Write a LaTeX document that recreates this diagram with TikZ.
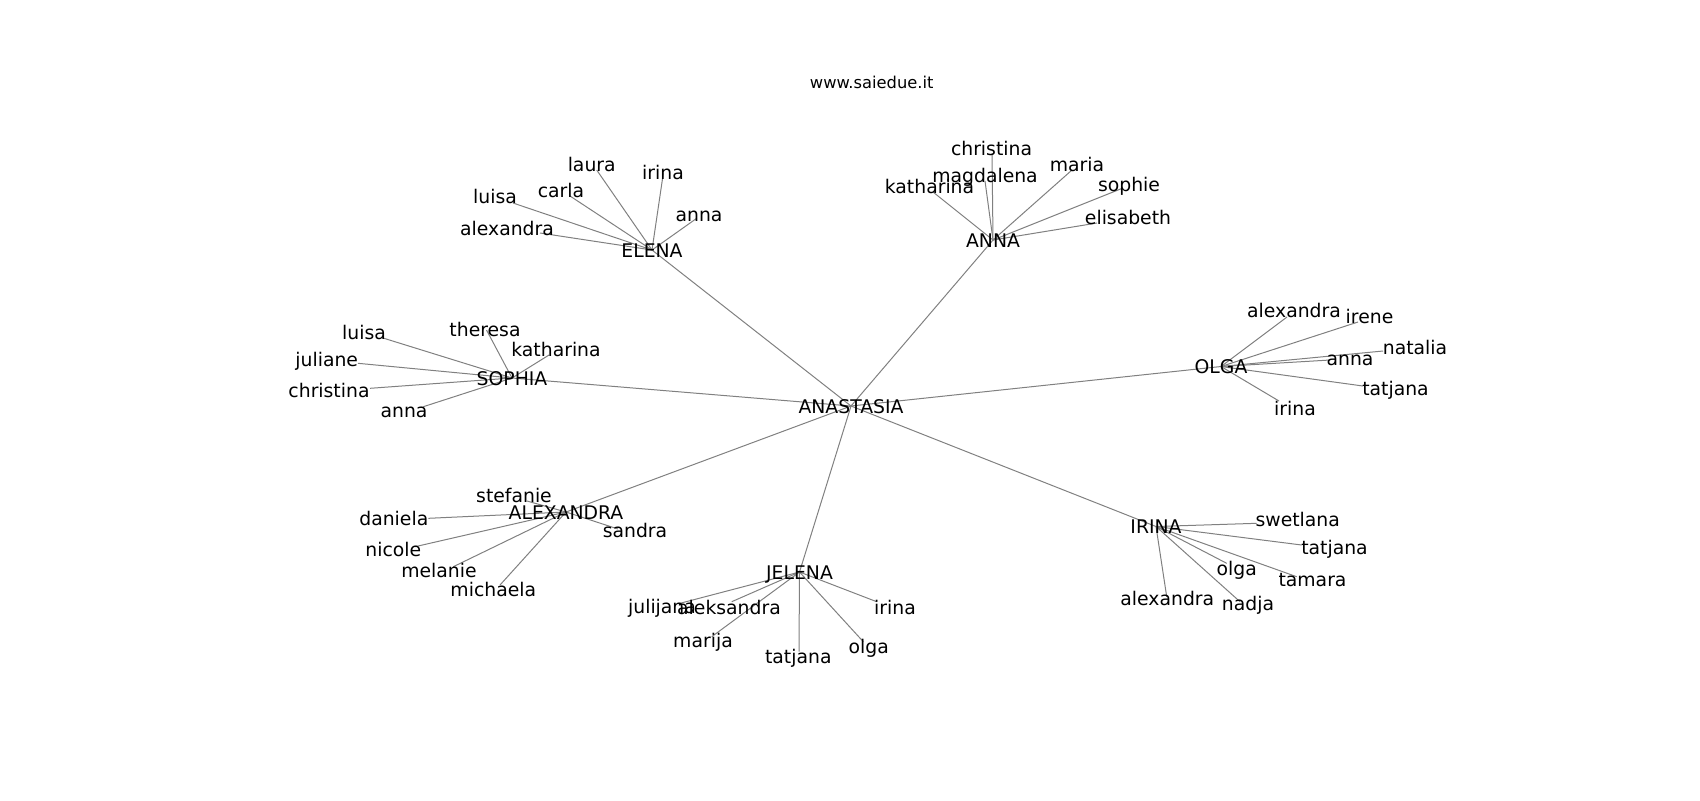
\documentclass[tikz,border=0pt]{standalone}
\usepackage{fontspec}
\setmainfont{DejaVu Sans}
\usetikzlibrary{backgrounds}
\definecolor{edgegray}{RGB}{128,128,128}
\begin{document}
\begin{tikzpicture}[x=0.5pt,y=-0.5pt,line join=round,line cap=round,
	hub/.style={inner sep=0pt,text height=0.73em,text depth=0pt,font=\fontsize{9.4}{11}\selectfont},
	leaf/.style={inner sep=0pt,anchor=base,font=\fontsize{9.4}{11}\selectfont},
	edge/.style={edgegray,line width=0.5pt}]
	\useasboundingbox (0,0) rectangle (1700,800);
	\node[anchor=base,inner sep=0pt,font=\fontsize{8.15}{10}\selectfont] (title) at (871.7,88.3) {www.saiedue.it};
	\foreach \h/\x/\y/\t in {ana/851/406/ANASTASIA,elena/652/250/ELENA,anna/993/240/ANNA,olga/1221/366.5/OLGA,
		sophia/512/378/SOPHIA,alexandra/566/512/ALEXANDRA,jelena/799.5/572/JELENA,irina/1156/526.5/IRINA}
	\node[hub] (\h) at (\x,\y) {\t};
	\begin{scope}[on background layer]
		\foreach \h in {elena,anna,olga,sophia,alexandra,jelena,irina}
		\draw[edge] (ana.center)--(\h.center);
	\end{scope}
	\foreach \h/\n/\ex/\ey/\lx/\ly in {
		elena/alexandra/540/233/507/235, elena/luisa/513/203/495/203, elena/carla/570/196/561/197,
		elena/laura/596.7/170/591.7/171.7, elena/irina/663.3/173.3/663/179, elena/anna/696.7/218.3/699/221,
		anna/katharina/933/192/929.5/193, anna/magdalena/985/181/985/182, anna/christina/992/153/991.5/155,
		anna/maria/1072/170/1077/171, anna/sophie/1123/188/1129/191, anna/elisabeth/1097/223/1128/224,
		olga/alexandra/1287/317/1294/317, olga/irene/1358/322/1369.5/323, olga/natalia/1383/351/1415/354,
		olga/anna/1330/360/1350/365, olga/tatjana/1363/386/1395.5/395, olga/irina/1279/401/1295/415,
		sophia/theresa/486.5/330/485/336, sophia/katharina/549/355/556/356, sophia/luisa/383/338/364/339,
		sophia/juliane/358/363.3/326.7/366, sophia/christina/370/388.3/329/397.7, sophia/anna/423.3/406.7/404/417.7,
		alexandra/stefanie/527/501/514/502.7, alexandra/daniela/428.3/518.3/393.8/525,
		alexandra/nicole/415/546.7/393.3/556.7, alexandra/melanie/453.3/566.7/439/577.3,
		alexandra/michaela/500/585/493.3/596, alexandra/sandra/618/529/635/537.7,
		jelena/julijana/680/603.3/662/613.5, jelena/aleksandra/731.7/601.7/729/614.3,
		jelena/marija/711.7/636.7/703/647.3, jelena/tatjana/799/651.7/798.3/663.3,
		jelena/olga/863.3/641.7/868.8/653.3, jelena/irina/876.7/601.7/895/614,
		irina/swetlana/1256.7/523.3/1297.7/526.7, irina/tatjana/1301.7/545/1334.5/554,
		irina/olga/1226.7/563.3/1236.7/575, irina/tamara/1296.7/576.7/1312.5/586,
		irina/alexandra/1166.7/596.7/1167.3/605, irina/nadja/1240/601.7/1248/610.7}
	{
		\coordinate (\h-\n) at (\ex,\ey);
		\node[leaf] (\h-\n-t) at (\lx,\ly) {\n};
		\begin{scope}[on background layer]
			\draw[edge] (\h.center)--(\h-\n);
		\end{scope}
	}
\end{tikzpicture}
\end{document}
